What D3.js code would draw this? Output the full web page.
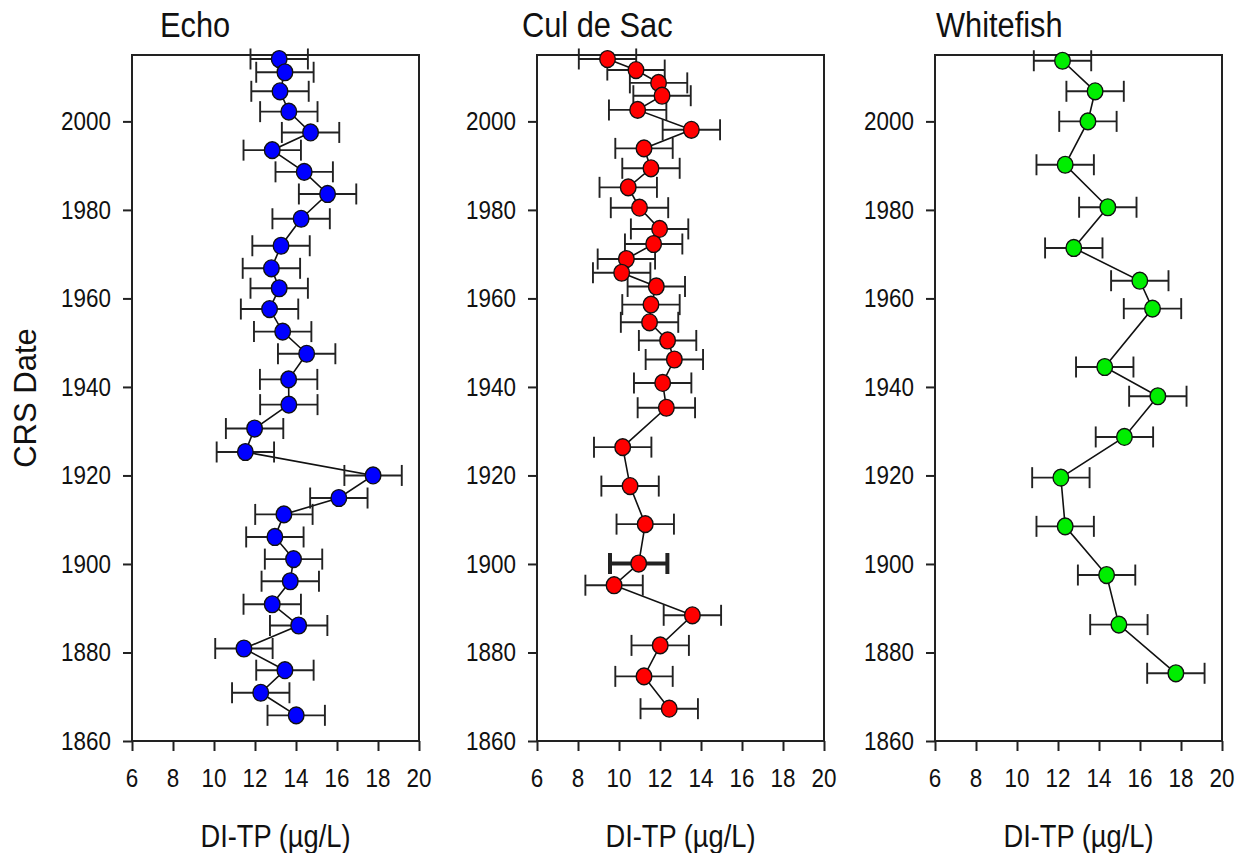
<!DOCTYPE html>
<html>
<head>
<meta charset="utf-8">
<script src="https://cdn.jsdelivr.net/npm/d3@7"></script>
<style>
  body { margin: 0; background: #fff; }
  svg text { font-family: 'Liberation Sans', Arial, sans-serif; fill: #111; }
</style>
</head>
<body>
<div id="chart"></div>
<script>
// values (CRS date, DI-TP in ug/L)
const lakes = ['Echo', 'Cul de Sac', 'Whitefish'];

const echoYear = [2014.1, 2011.1, 2006.8, 2002.2, 1997.5, 1993.5, 1988.6, 1983.6, 1978.0, 1971.9, 1966.8,
  1962.3, 1957.6, 1952.5, 1947.5, 1941.7, 1936.0, 1930.6, 1925.3, 1920.0, 1914.9, 1911.2, 1906.1,
  1901.1, 1896.1, 1890.9, 1886.1, 1880.9, 1876.0, 1870.9, 1865.8];
const echoTP = [13.18, 13.46, 13.22, 13.65, 14.71, 12.84, 14.4, 15.54, 14.25, 13.27, 12.8,
  13.18, 12.71, 13.35, 14.52, 13.64, 13.65, 11.98, 11.53, 17.76, 16.09, 13.41, 12.97,
  13.88, 13.72, 12.84, 14.13, 11.46, 13.46, 12.28, 14.01];

const cdsYear = [2014.1, 2011.6, 2008.7, 2005.8, 2002.6, 1998.1, 1993.9, 1989.4, 1985.1, 1980.5,
  1975.7, 1972.3, 1968.9, 1965.8, 1962.7, 1958.6, 1954.6, 1950.5, 1946.2, 1940.9, 1935.3,
  1926.4, 1917.6, 1909.0, 1900.1, 1895.2, 1888.4, 1881.6, 1874.6, 1867.3];
const cdsTP = [9.44, 10.83, 11.93, 12.1, 10.91, 13.53, 11.22, 11.56, 10.45, 11.0,
  11.98, 11.69, 10.36, 10.13, 11.82, 11.56, 11.49, 12.37, 12.7, 12.13, 12.31,
  10.18, 10.54, 11.28, 10.96, 9.76, 13.58, 12.01, 11.22, 12.45];
const cdsBoldBar = [24]; // index of the one error bar drawn heavier

const wfYear = [2013.7, 2006.8, 2000.0, 1990.2, 1980.6, 1971.4, 1964.0, 1957.7, 1944.5, 1937.9,
  1928.7, 1919.5, 1908.5, 1897.5, 1886.3, 1875.3];
const wfTP = [12.22, 13.81, 13.46, 12.35, 14.43, 12.77, 15.99, 16.61, 14.28, 16.87,
  15.24, 12.14, 12.35, 14.37, 14.97, 17.75];

const tpError = [1.4, 1.4, 1.4]; // +/- per lake

const yearTicks = [1860, 1880, 1900, 1920, 1940, 1960, 1980, 2000];
const tpTicks = [6, 8, 10, 12, 14, 16, 18, 20];

const panels = [
  { name: lakes[0], year: echoYear, tp: echoTP, err: tpError[0], fill: '#0000ff', bold: [] },
  { name: lakes[1], year: cdsYear, tp: cdsTP, err: tpError[1], fill: '#ff0000', bold: cdsBoldBar },
  { name: lakes[2], year: wfYear, tp: wfTP, err: tpError[2], fill: '#00ee00', bold: [] },
];

const size = { width: 1238, height: 853 };
const lefts = [132, 537, 935];
const titleX = [160, 522, 936];
const plotW = 287;
const plotTop = 55;
const plotBottom = 741;
const squeeze = 0.88; // the original text is a bit narrow

const svg = d3.select('#chart')
  .append('svg')
  .attr('width', size.width)
  .attr('height', size.height);

const addText = (g, str, x, y, fontSize, anchor) => g.append('text')
  .attr('transform', `translate(${x},${y}) scale(${squeeze},1)`)
  .attr('text-anchor', anchor)
  .style('font-size', fontSize + 'px')
  .text(str);

const y = d3.scaleLinear().domain([1860, 2015]).range([plotBottom, plotTop]);

panels.forEach((p, pi) => {
  const x = d3.scaleLinear().domain([6, 20]).range([lefts[pi], lefts[pi] + plotW]);
  const g = svg.append('g');
  const data = p.year.map((yr, i) => ({ yr, tp: p.tp[i], i }));

  // frame
  g.append('rect')
    .attr('x', x(6))
    .attr('y', plotTop)
    .attr('width', x(20) - x(6))
    .attr('height', plotBottom - plotTop)
    .attr('fill', 'none')
    .attr('stroke', '#222')
    .attr('stroke-width', 2);

  // axes
  const yAxis = g.append('g')
    .attr('transform', `translate(${x(6)},0)`)
    .call(d3.axisLeft(y).tickValues(yearTicks).tickSize(9).tickFormat(''));
  yAxis.select('.domain').remove();
  yAxis.selectAll('line').attr('stroke', '#222').attr('stroke-width', 2);

  const xAxis = g.append('g')
    .attr('transform', `translate(0,${plotBottom})`)
    .call(d3.axisBottom(x).tickValues(tpTicks).tickSize(10).tickFormat(''));
  xAxis.select('.domain').remove();
  xAxis.selectAll('line').attr('stroke', '#222').attr('stroke-width', 2);

  yearTicks.forEach((t) => addText(g, t, x(6) - 21, y(t) + 9, 25.5, 'end'));
  tpTicks.forEach((t) => addText(g, t, x(t), 787, 25.5, 'middle'));

  addText(g, p.name, titleX[pi], 37, 35, 'start');
  addText(g, 'DI-TP (µg/L)', (x(6) + x(20)) / 2, 847, 31, 'middle');

  // connecting line
  g.append('path')
    .datum(data)
    .attr('d', d3.line().x((d) => x(d.tp)).y((d) => y(d.yr)))
    .attr('fill', 'none')
    .attr('stroke', '#111')
    .attr('stroke-width', 1.6);

  // error bars
  const bars = g.selectAll('.err')
    .data(data)
    .enter()
    .append('g')
    .attr('stroke', '#222')
    .attr('stroke-width', (d) => (p.bold.includes(d.i) ? 4 : 1.9));
  bars.append('line')
    .attr('x1', (d) => x(d.tp - p.err))
    .attr('x2', (d) => x(d.tp + p.err))
    .attr('y1', (d) => y(d.yr))
    .attr('y2', (d) => y(d.yr));
  [-1, 1].forEach((s) => {
    bars.append('line')
      .attr('x1', (d) => x(d.tp + s * p.err))
      .attr('x2', (d) => x(d.tp + s * p.err))
      .attr('y1', (d) => y(d.yr) - 10.5)
      .attr('y2', (d) => y(d.yr) + 10.5);
  });

  // points
  g.selectAll('.pt')
    .data(data)
    .enter()
    .append('ellipse')
    .attr('cx', (d) => x(d.tp))
    .attr('cy', (d) => y(d.yr))
    .attr('rx', 7.8)
    .attr('ry', 8.4)
    .attr('fill', p.fill)
    .attr('stroke', '#111')
    .attr('stroke-width', 1.4);
});

// shared y label
svg.append('text')
  .attr('transform', 'translate(36,398) rotate(-90)')
  .attr('text-anchor', 'middle')
  .style('font-size', '31px')
  .text('CRS Date');
</script>
</body>
</html>
